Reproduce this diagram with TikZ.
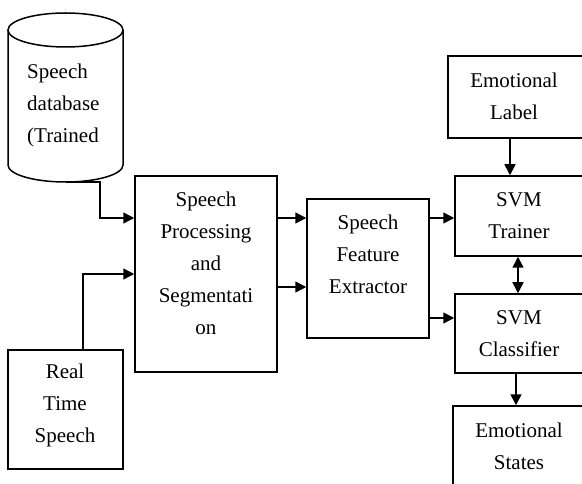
\documentclass[tikz,border=0pt]{standalone}
\usepackage{fontspec}
\setmainfont{Liberation Serif}
\usetikzlibrary{arrows.meta,calc}
\begin{document}
\begin{tikzpicture}[x=1pt,y=-1pt,
  box/.style={draw,line width=1.5pt,inner sep=0pt},
  txt/.style={align=center,font=\fontsize{21}{32}\selectfont,inner sep=0pt},
  conn/.style={line width=1.5pt},
  arr/.style={line width=1.5pt,-{Triangle[length=11pt,width=11pt]}},
  darr/.style={line width=1.5pt,{Triangle[length=11pt,width=11pt]}-{Triangle[length=11pt,width=11pt]}}]
\useasboundingbox (0,0) rectangle (582,484);
\clip (0,0) rectangle (582,484);
% database cylinder
\draw[line width=1.5pt] (8,30) -- (8,165) arc[start angle=180,end angle=0,x radius=57.5,y radius=17] -- (123,30);
\draw[line width=1.5pt] (65.5,30) ellipse[x radius=57.5,y radius=17];
\coordinate (dbb) at (65.5,182);
\node[txt,align=left,anchor=west] (dbt) at (27,105) {Speech\\database\\(Trained};
% boxes
\node[box,minimum width=142pt,minimum height=196pt] (proc) at (206,274) {};
\node[txt] (proct) at (206,263) {Speech\\Processing\\and\\Segmentati\\on};
\node[box,minimum width=115pt,minimum height=119pt] (rt) at (65.5,409.5) {};
\node[txt] (rtt) at (65,405) {Real\\Time\\Speech};
\node[box,minimum width=122pt,minimum height=139pt] (feat) at (368,268.5) {};
\node[txt] (featt) at (368,254) {Speech\\Feature\\Extractor};
\node[box,minimum width=142pt,minimum height=82pt] (lab) at (519,97) {};
\node[txt] (labt) at (514,96) {Emotional\\Label};
\node[box,minimum width=135pt,minimum height=80pt] (tr) at (522.5,216) {};
\node[txt] (trt) at (519,216) {SVM\\Trainer};
\node[box,minimum width=135pt,minimum height=79pt] (cl) at (522.5,333.5) {};
\node[txt] (clt) at (519,334) {SVM\\Classifier};
\node[box,minimum width=137pt,minimum height=94pt] (st) at (521.5,453) {};
\node[txt] (stt) at (519,446) {Emotional\\States};
% helper coordinates
\coordinate (dbturn) at (100,182);
\coordinate (ya) at (0,218);
\coordinate (yb) at (0,287);
\coordinate (yc) at (0,318);
\coordinate (xrt) at (83,0);
\coordinate (xl) at (510,0);
\coordinate (xd) at (518,0);
\coordinate (xs) at (516,0);
% connectors
\draw[arr] (dbb) -- (dbturn) |- (proc.west |- ya);
\draw[arr] (rt.north -| xrt) |- (proc.west);
\draw[arr] (proc.east |- ya) -- (feat.west |- ya);
\draw[arr] (proc.east |- yb) -- (feat.west |- yb);
\draw[arr] (feat.east |- ya) -- (tr.west |- ya);
\draw[arr] (feat.east |- yc) -- (cl.west |- yc);
\draw[arr] (lab.south -| xl) -- (tr.north -| xl);
\draw[darr] (tr.south -| xd) -- (cl.north -| xd);
\draw[arr] (cl.south -| xs) -- (st.north -| xs);
\end{tikzpicture}
\end{document}
